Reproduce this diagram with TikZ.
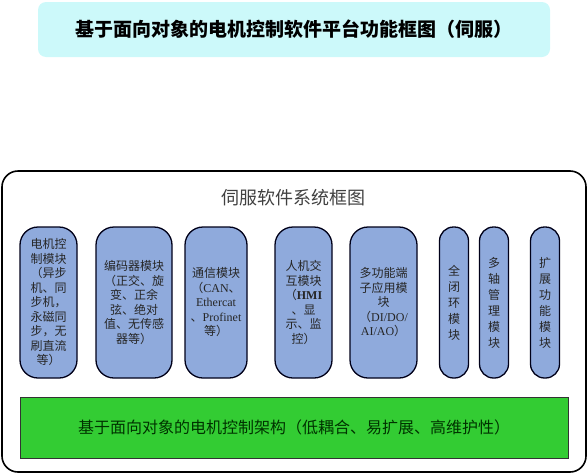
\documentclass[tikz,border=0pt]{standalone}
\usepackage{fontspec}
\setmainfont{Liberation Serif}
\newfontfamily\cjk{Noto Sans CJK SC}
\newcommand\lat[1]{{\rmfamily #1}}
\definecolor{titlecyan}{RGB}{204,249,250}
\definecolor{modblue}{RGB}{143,170,220}
\definecolor{basegreen}{RGB}{51,204,51}
\begin{document}
\begin{tikzpicture}[x=1pt,y=-1pt,
  modbox/.style={draw=black!90!blue,line width=1.3pt,fill=modblue,rounded corners=18pt,
    minimum height=151pt,inner sep=0pt,align=center,text=black!85,
    font=\cjk\fontsize{12}{14.5}\selectfont},
  vbox/.style={modbox,rounded corners=14pt,minimum width=29pt,font=\cjk\fontsize{12}{16}\selectfont}]
\useasboundingbox (0,0) rectangle (588,474);

% title bar
\node[fill=titlecyan,rounded corners=8pt,minimum width=512pt,minimum height=55pt,
  font=\cjk\bfseries\fontsize{19}{22}\selectfont] (title) at (294,29.5)
  {基于面向对象的电机控制软件平台功能框图（伺服）};

% outer frame
\node[draw,line width=1.6pt,rounded corners=16pt,minimum width=584pt,minimum height=301pt,
  inner sep=0pt] (frame) at (294,321.5) {};
\node[font=\cjk\fontsize{18}{20}\selectfont,text=black!75] (caption) at (293.5,198) {伺服软件系统框图};

% modules
\node[modbox,minimum width=57pt] (motor) at (48.5,302.5)
  {电机控\\制模块\\（异步\\机、同\\步机，\\永磁同\\步，无\\刷直流\\等）};
\node[modbox,minimum width=76pt] (encoder) at (134,302.5)
  {编码器模块\\（正交、旋\\变、正余\\弦、绝对\\值、无传感\\器等）};
\node[modbox,minimum width=62pt] (comm) at (216,302.5)
  {通信模块\\（\lat{CAN}、\\\lat{Ethercat}\\、\lat{Profinet}\\等）};
\node[modbox,minimum width=57pt] (hmi) at (303.5,302.5)
  {人机交\\互模块\\（\lat{\bfseries HMI}\\、显\\示、监\\控）};
\node[modbox,minimum width=67pt] (dio) at (383.5,302.5)
  {多功能端\\子应用模\\块\\（\lat{DI/DO/}\\\lat{AI/AO}）};
\node[vbox] (loop) at (454,302.5) {全\\闭\\环\\模\\块};
\node[vbox] (axis) at (494,302.5) {多\\轴\\管\\理\\模\\块};
\node[vbox] (ext) at (545,302.5) {扩\\展\\功\\能\\模\\块};

% base layer
\node[draw=black!80,line width=1pt,fill=basegreen,minimum width=548pt,minimum height=61pt,
  inner sep=0pt,text=black!80!green,font=\cjk\fontsize{16}{18}\selectfont] (base) at (294,427.5)
  {基于面向对象的电机控制架构（低耦合、易扩展、高维护性）};

\end{tikzpicture}
\end{document}
